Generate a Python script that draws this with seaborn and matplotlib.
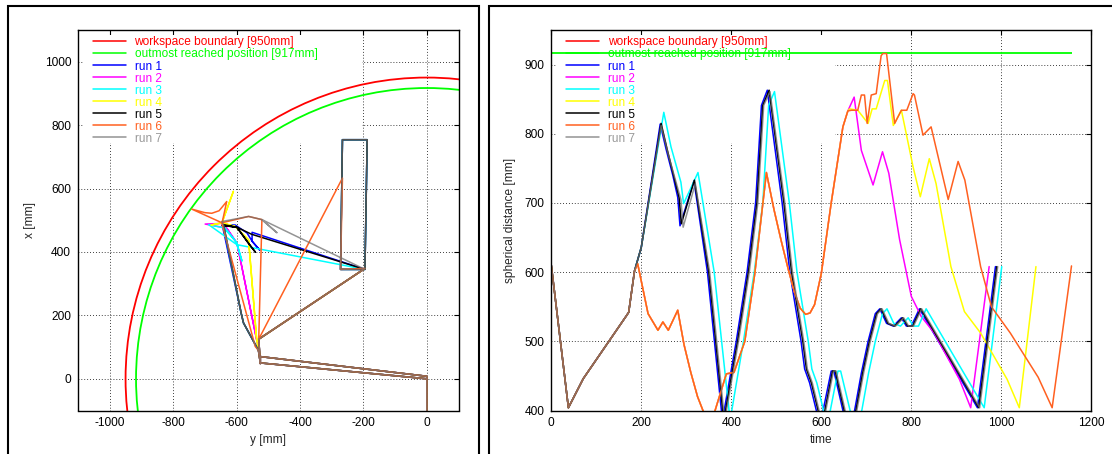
import matplotlib
matplotlib.use("Agg")
import matplotlib.pyplot as plt
from matplotlib.patches import Circle, Rectangle
from matplotlib.lines import Line2D
import seaborn as sns

# ---------------- data ----------------
labels = ["workspace boundary [950mm]", "outmost reached position [917mm]",
          "run 1", "run 2", "run 3", "run 4", "run 5", "run 6", "run 7"]
boundary_radius = 950
reached_radius = 917

# left plot: path in the horizontal plane (y on the horizontal axis, x vertical)
start_y = [0, 0, -525, -525, -530, -195]
start_x = [-110, 8, 70, 48, 125, 348]
box_y = [-188, -266, -272, -195]
box_x = [754, 754, 345, 345]
end_y = [-531, -525, 0]
end_x = [90, 50, 0]

run1_y = [-551, -551, -527, -551, -567, -604, -645, -585, -578]
run1_x = [462, 434, 406, 434, 460, 485, 485, 205, 176]
run2_y = [-530, -536, -589, -599, -631, -699, -646, -631, -599, -589, -536]
run2_x = [125, 120, 381, 428, 475, 488, 490, 475, 428, 381, 120]
run3_y = [-599, -688, -640, -600, -583, -600, -641, -585, -578]
run3_x = [423, 486, 476, 430, 372, 430, 482, 205, 176]
run4_y = [-530, -536, -562, -604, -646, -680, -646, -610, -646, -604, -562, -536]
run4_x = [125, 118, 438, 480, 492, 485, 492, 591, 492, 480, 438, 118]
run5_y = [-553, -599, -645, -599, -562, -541, -562, -599, -641, -585, -578]
run5_x = [456, 478, 484, 478, 427, 400, 427, 478, 486, 205, 176]
run6_y = [-272, -266, -530, -520, -562, -646, -741, -700, -678, -655, -631, -646, -541]
run6_x = [345, 633, 125, 502, 512, 492, 535, 524, 522, 530, 559, 490, 102]
run7_y = [-520, -473, -520, -562, -646, -641, -585, -578]
run7_x = [502, 461, 502, 512, 496, 486, 205, 176]

# right plot: spherical distance over time
common_t = [0, 38, 71, 167, 172, 185]
common_v = [610, 404, 446, 537, 542, 602]

slow_t = [192, 215, 237, 248, 260, 281, 295, 310, 325, 337, 350, 363, 389, 406, 430, 452,
          478, 495, 511, 527, 541, 553, 565, 575, 585, 600, 622, 648, 659]
slow_v = [612, 540, 516, 528, 516, 545, 495, 455, 420, 400, 385, 398, 453, 455, 500, 597,
          744, 690, 645, 603, 570, 548, 539, 541, 553, 598, 700, 810, 833]

run1_t = [200, 242, 255, 270, 281, 286, 317, 347, 378, 381, 411, 435, 454, 467, 480, 513, 530,
          555, 563, 574, 589, 597, 604, 622, 628, 648, 661, 674, 689, 704, 720, 730, 745,
          760, 778, 789, 800, 818, 947, 987]
run1_v = [636, 814, 778, 740, 708, 667, 732, 600, 400, 388, 500, 600, 700, 841, 863, 700, 600,
          500, 460, 440, 400, 382, 400, 457, 457, 400, 380, 400, 454, 500, 540, 547, 526,
          522, 534, 522, 522, 547, 404, 608]
run2_t = [673, 689, 715, 736, 750, 774, 800, 822, 851, 907, 932, 973]
run2_v = [853, 776, 726, 774, 743, 647, 565, 536, 512, 445, 404, 608]
run3_t = [200, 250, 266, 288, 294, 326, 362, 395, 398, 427, 451, 470, 483, 496, 529, 546,
          571, 579, 590, 605, 613, 620, 637, 643, 664, 677, 690, 705, 720, 736, 746, 761,
          776, 793, 805, 816, 833, 962, 1001]
run3_v = [636, 831, 781, 730, 699, 744, 600, 400, 388, 500, 600, 700, 841, 861, 700, 600,
          500, 460, 440, 400, 382, 400, 457, 457, 400, 380, 400, 454, 500, 540, 547, 526,
          522, 534, 522, 522, 547, 404, 608]
run4_t = [663, 681, 704, 713, 722, 741, 747, 760, 778, 804, 820, 840, 855, 888, 918, 954,
          1013, 1040, 1077]
run4_v = [836, 834, 815, 836, 836, 877, 877, 812, 834, 752, 709, 764, 728, 608, 543, 512,
          445, 404, 608]
run5_t = [200, 244, 258, 284, 289, 318, 350, 381, 384, 414, 438, 457, 470, 484, 517, 534,
          559, 567, 578, 593, 601, 608, 625, 631, 651, 664, 677, 692, 707, 723, 733, 748,
          763, 781, 792, 803, 821, 950, 990]
run5_v = [636, 815, 776, 708, 670, 733, 600, 400, 388, 500, 600, 700, 841, 863, 700, 600,
          500, 460, 440, 400, 382, 400, 457, 457, 400, 380, 400, 454, 500, 540, 547, 526,
          522, 534, 522, 522, 547, 404, 608]
run6_t = [667, 681, 689, 696, 702, 711, 722, 733, 737, 745, 763, 778, 790, 804, 807, 826,
          844, 882, 904, 919, 954, 978, 1020, 1082, 1113, 1156]
run6_v = [834, 834, 856, 856, 815, 856, 858, 913, 916, 916, 815, 834, 834, 858, 856, 798,
          810, 705, 760, 733, 608, 550, 512, 448, 404, 609]
run7_t = [200, 244, 260, 288, 293, 320, 352, 383, 386, 416, 440, 459, 472, 486, 519, 536,
          561, 569, 580, 595, 603, 610, 627, 633, 653, 666, 679, 694, 709, 725, 735, 750,
          765, 783, 794, 805, 823, 952, 992]
run7_v = [636, 812, 770, 705, 665, 728, 600, 400, 388, 500, 600, 700, 841, 861, 700, 600,
          500, 460, 440, 400, 382, 400, 457, 457, 400, 380, 400, 454, 500, 540, 547, 526,
          522, 534, 522, 522, 547, 404, 608]

# ---------------- style ----------------
sns.set_style("white")
plt.rcParams["font.family"] = ["Liberation Sans", "DejaVu Sans"]
plt.rcParams["axes.unicode_minus"] = False
FS = 8.6

line_colors = ["#ff0000", "#00ff00", "#0000ff", "#ff00ff", "#00ffff",
               "#ffff00", "#000000", "#ff6020", "#707070"]
text_colors = line_colors[:-1] + ["#999999"]
run_alpha = [1, 1, 1, 1, 1, 1, 0.75]

W, H = 1112, 454
fig = plt.figure(figsize=(W / 100, H / 100), dpi=100)
ax1 = fig.add_axes([78 / W, 43.5 / H, 380.5 / W, 380.5 / H])
ax2 = fig.add_axes([551.3 / W, 43.5 / H, 540 / W, 380.5 / H])

# outer frames of the two sub-pictures
for x0, w in [(7.8, 470.9), (489, 700)]:
    fig.add_artist(Rectangle((x0 / W, -0.1), w / W, 1.1 - 6.5 / H, transform=fig.transFigure,
                             fill=False, edgecolor="black", lw=1.5, clip_on=False))

# left: trajectories
ax1.add_patch(Circle((0, 0), boundary_radius, fill=False, edgecolor=line_colors[0], lw=1.3, zorder=2))
ax1.add_patch(Circle((0, 0), reached_radius, fill=False, edgecolor=line_colors[1], lw=1.3, zorder=2))
mids = [(box_y + run1_y, box_x + run1_x), (run2_y, run2_x), (box_y + run3_y, box_x + run3_x),
        (run4_y, run4_x), (box_y + run5_y, box_x + run5_x), (run6_y, run6_x),
        (box_y + run7_y, box_x + run7_x)]
for i, (my, mx) in enumerate(mids):
    sns.lineplot(x=start_y + my + end_y, y=start_x + mx + end_x, sort=False, estimator=None,
                 color=line_colors[i + 2], alpha=run_alpha[i], lw=1.1, ax=ax1, zorder=3)
ax1.set_xlim(-1100, 100)
ax1.set_ylim(-100, 1100)
ax1.set_xticks(range(-1000, 1, 200))
ax1.set_yticks(range(0, 1001, 200))
ax1.set_xlabel("y [mm]", fontsize=FS, labelpad=3)
ax1.set_ylabel("x [mm]", fontsize=FS, labelpad=6)

# right: distance over time
series = [(run1_t, run1_v, False), (run2_t, run2_v, True), (run3_t, run3_v, False),
          (run4_t, run4_v, True), (run5_t, run5_v, False), (run6_t, run6_v, True),
          (run7_t, run7_v, False)]
t_end = max(run6_t)
ax2.hlines(boundary_radius, 0, t_end, color=line_colors[0], lw=1.3, zorder=2)
ax2.hlines(reached_radius, 0, t_end, color=line_colors[1], lw=1.3, zorder=2)
for i, (tt, vv, slow) in enumerate(series):
    t = common_t + (slow_t if slow else []) + tt
    v = common_v + (slow_v if slow else []) + vv
    sns.lineplot(x=t, y=v, sort=False, estimator=None, color=line_colors[i + 2],
                 alpha=run_alpha[i], lw=1.1, ax=ax2, zorder=3)
ax2.set_xlim(0, 1200)
ax2.set_ylim(400, 950)
ax2.set_xticks(range(0, 1201, 200))
ax2.set_yticks(range(400, 901, 100))
ax2.set_xlabel("time", fontsize=FS, labelpad=3)
ax2.set_ylabel("spherical distance [mm]", fontsize=FS, labelpad=6)

handles = [Line2D([], [], color=c, lw=1.1, alpha=a)
           for c, a in zip(line_colors, [1, 1] + run_alpha)]
for ax in (ax1, ax2):
    wpx = ax.get_position().width * W
    hpx = ax.get_position().height * H
    ax.set_axisbelow(True)
    ax.grid(True, color="black", lw=0.6, linestyle=(0, (1, 2.5)))
    ax.tick_params(direction="in", length=3.6, width=0.8, top=True, right=True,
                   labelsize=FS, pad=5, colors="black")
    for s in ax.spines.values():
        s.set_linewidth(1.0)
        s.set_color("black")
        s.set_zorder(4)
    # white key area hiding the grid, as gnuplot does
    ax.add_patch(Rectangle((5 / wpx, 1 - 113 / hpx), 279 / wpx, 108 / hpx, transform=ax.transAxes,
                           facecolor="white", edgecolor="none", zorder=1))
    leg = ax.legend(handles, labels, loc="upper left",
                    bbox_to_anchor=(14.7 / wpx, 1 - 6.5 / hpx), frameon=False, fontsize=FS,
                    handlelength=2.8, handletextpad=0.7, labelspacing=0.0,
                    borderpad=0, borderaxespad=0)
    for txt, c in zip(leg.get_texts(), text_colors):
        txt.set_color(c)

fig.savefig("out.png", dpi=100)
